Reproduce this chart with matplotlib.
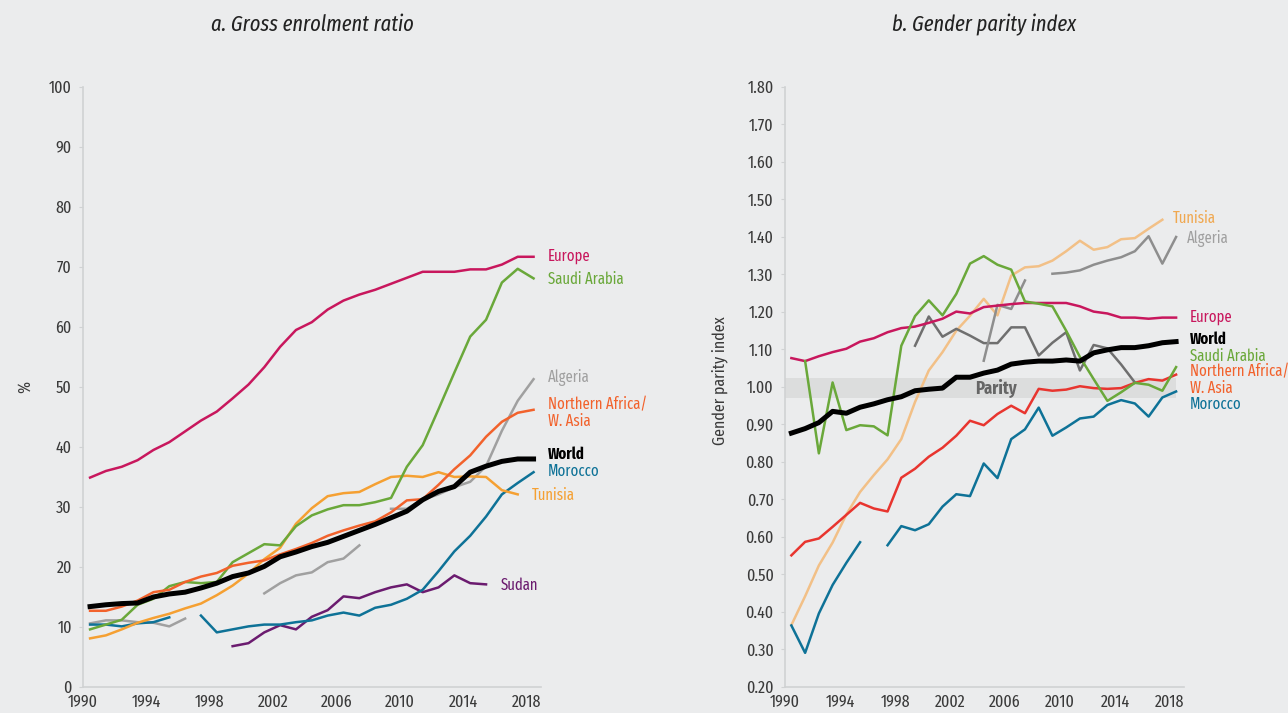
import numpy as np
import matplotlib
matplotlib.use("Agg")
import matplotlib.pyplot as plt

nan = np.nan
years = list(range(1990, 2019))

# a. Gross enrolment ratio (%)
ger_europe = [34.9, 36.0, 36.7, 37.8, 39.5, 40.8, 42.6, 44.4, 45.9, 48.1, 50.4, 53.3, 56.7, 59.5, 60.8,
              62.9, 64.4, 65.4, 66.2, 67.2, 68.2, 69.2, 69.2, 69.2, 69.6, 69.6, 70.4, 71.7, 71.7]
ger_saudi = [9.6, 10.4, 11.2, 13.7, 14.7, 16.8, 17.5, 17.3, 17.5, 20.8, 22.3, 23.8, 23.6, 26.8, 28.6,
             29.6, 30.3, 30.3, 30.8, 31.5, 36.7, 40.3, 46.3, 52.4, 58.4, 61.2, 67.4, 69.7, 68.1]
ger_algeria = [10.6, 11.1, 11.1, 10.8, 10.7, 10.1, 11.4, nan, nan, nan, nan, 15.6, 17.3, 18.6, 19.1,
               20.8, 21.4, 23.6, nan, 29.7, 29.7, 31.2, 32.1, 33.3, 34.2, 36.8, 42.7, 47.7, 51.3]
ger_nawa = [12.7, 12.7, 13.4, 14.4, 15.8, 16.2, 17.5, 18.4, 19.0, 20.2, 20.7, 21.1, 22.1, 23.0, 24.0,
            25.2, 26.1, 26.9, 27.6, 29.1, 31.1, 31.3, 33.7, 36.3, 38.6, 41.7, 44.2, 45.7, 46.2]
ger_world = [13.4, 13.7, 13.9, 14.0, 15.0, 15.5, 15.8, 16.5, 17.3, 18.4, 19.0, 20.1, 21.7, 22.5, 23.4,
             24.1, 25.1, 26.1, 27.1, 28.2, 29.3, 31.2, 32.6, 33.4, 35.8, 36.8, 37.6, 38.0, 38.0]
ger_morocco = [10.4, 10.4, 10.1, 10.6, 10.8, 11.6, nan, 11.9, 9.1, 9.6, 10.1, 10.4, 10.4, 10.8, 11.1,
               11.9, 12.4, 11.9, 13.2, 13.7, 14.7, 16.2, 19.3, 22.6, 25.2, 28.4, 32.1, 34.0, 35.8]
ger_tunisia = [8.1, 8.6, 9.6, 10.7, 11.5, 12.2, 13.1, 13.9, 15.3, 16.9, 18.9, 21.3, 23.2, 27.2, 29.8,
               31.8, 32.3, 32.5, 33.8, 35.0, 35.2, 35.0, 35.8, 35.0, 35.1, 35.0, 32.8, 32.1, nan]
ger_sudan = [nan] * 9 + [6.8, 7.3, 9.1, 10.3, 9.6, 11.7, 12.8, 15.1, 14.8, 15.8, 16.6, 17.1, 15.8,
                         16.6, 18.6, 17.3, 17.1, nan, nan, nan]

# b. Gender parity index
gpi_europe = [1.077, 1.069, 1.082, 1.093, 1.102, 1.121, 1.130, 1.146, 1.157, 1.161, 1.171, 1.182, 1.201,
              1.196, 1.213, 1.217, 1.221, 1.224, 1.224, 1.224, 1.224, 1.215, 1.201, 1.196, 1.185, 1.185,
              1.182, 1.185, 1.185]
gpi_world = [0.877, 0.889, 0.905, 0.935, 0.930, 0.946, 0.955, 0.966, 0.974, 0.990, 0.994, 0.997, 1.026,
             1.026, 1.037, 1.045, 1.061, 1.066, 1.069, 1.069, 1.072, 1.069, 1.091, 1.099, 1.105, 1.105,
             1.110, 1.118, 1.121]
gpi_saudi = [nan, 1.069, 0.823, 1.012, 0.885, 0.898, 0.895, 0.871, 1.110, 1.189, 1.231, 1.191, 1.248,
             1.329, 1.349, 1.326, 1.313, 1.228, 1.222, 1.215, 1.150, 1.080, 1.021, 0.963, 0.986, 1.011,
             1.006, 0.990, 1.053]
gpi_tunisia = [0.365, 0.442, 0.524, 0.585, 0.660, 0.720, 0.765, 0.807, 0.861, 0.960, 1.044, 1.093, 1.150,
               1.190, 1.235, 1.191, 1.297, 1.319, 1.322, 1.337, 1.362, 1.390, 1.366, 1.373, 1.394, 1.397,
               1.422, 1.446, nan]
gpi_algeria = [nan] * 14 + [1.070, 1.219, 1.208, 1.284, nan, 1.302, 1.305, 1.311, 1.326, 1.337, 1.346,
                            1.362, 1.402, 1.329, 1.400]
gpi_other = [nan] * 9 + [1.110, 1.188, 1.134, 1.155, 1.137, 1.117, 1.117, 1.159, 1.159, 1.084, 1.118,
                         1.146, 1.044, 1.112, 1.103, 1.060, 1.012, nan, nan, nan]
gpi_nawa = [0.551, 0.587, 0.596, 0.627, 0.659, 0.691, 0.676, 0.668, 0.758, 0.782, 0.814, 0.838, 0.870,
            0.910, 0.898, 0.928, 0.950, 0.930, 0.995, 0.990, 0.993, 1.002, 0.997, 0.995, 0.997, 1.011,
            1.021, 1.017, 1.033]
gpi_morocco = [0.364, 0.291, 0.396, 0.472, 0.531, 0.586, nan, 0.578, 0.629, 0.618, 0.634, 0.681, 0.714,
               0.709, 0.796, 0.757, 0.861, 0.887, 0.945, 0.870, 0.892, 0.916, 0.921, 0.952, 0.965, 0.956,
               0.921, 0.972, 0.988]

xticks = [1990, 1994, 1998, 2002, 2006, 2010, 2014, 2018]

BG = "#ebeced"
C_EUR = "#c8175d"
C_SAU = "#6aa83a"
C_ALG = "#a0a0a0"
C_NAWA = "#f2622c"
C_NAWA_B = "#e8352f"
C_MOR = "#0e7297"
C_TUN = "#f5a032"
C_TUN_B = "#f2c087"
C_SUD = "#6b1b6f"
TXT = "#3a3a3a"

plt.rcParams['font.family'] = ['Fira Sans Extra Condensed', 'Fira Sans Condensed', 'DejaVu Sans']

fig = plt.figure(figsize=(12.88, 7.13), dpi=100, facecolor=BG)
ax1 = fig.add_axes([0.0644, 0.0365, 0.356, 0.8415])
ax2 = fig.add_axes([0.6092, 0.0365, 0.3101, 0.8415])


def style(ax):
    ax.set_facecolor(BG)
    for s in ["top", "right"]:
        ax.spines[s].set_visible(False)
    for s in ["left", "bottom"]:
        ax.spines[s].set_color("#d0d2d3")
        ax.spines[s].set_linewidth(1.2)
    ax.tick_params(axis="y", length=3, color="#d0d2d3", labelsize=12.5, labelcolor=TXT, pad=5)
    ax.tick_params(axis="x", length=0, labelsize=12.5, labelcolor=TXT, pad=5)
    ax.set_xticks([y - 0.45 for y in xticks])
    ax.set_xticklabels([str(y) for y in xticks])


lw = 1.8
fs = 11.5

# panel a
ax1.plot(years, ger_europe, color=C_EUR, lw=lw)
ax1.plot(years, ger_algeria, color=C_ALG, lw=lw)
ax1.plot(years, ger_sudan, color=C_SUD, lw=lw)
ax1.plot(years, ger_morocco, color=C_MOR, lw=lw)
ax1.plot(years, ger_tunisia, color=C_TUN, lw=lw)
ax1.plot(years, ger_saudi, color=C_SAU, lw=lw)
ax1.plot(years, ger_nawa, color=C_NAWA, lw=lw)
ax1.plot(years, ger_world, color="black", lw=3.6)
ax1.set_ylim(0, 100)
ax1.set_xlim(1989.56, 2018.5)
ax1.set_yticks(range(0, 101, 10))
style(ax1)
ax1.set_ylabel("%", fontsize=12.5, color=TXT)
ax1.yaxis.set_label_coords(-0.109, 0.5)
ax1.set_title("a. Gross enrolment ratio", fontsize=16, style="italic", color="#222222", pad=40)

ax1.text(2018.9, ger_europe[-1] + 0.2, "Europe", color=C_EUR, fontsize=fs, va="center")
ax1.text(2018.9, ger_saudi[-1] - 0.2, "Saudi Arabia", color=C_SAU, fontsize=fs, va="center")
ax1.text(2018.9, ger_algeria[-1] + 0.2, "Algeria", color=C_ALG, fontsize=fs, va="center")
ax1.text(2018.9, ger_nawa[-1] - 0.5, "Northern Africa/\nW. Asia", color=C_NAWA, fontsize=fs, va="center",
         linespacing=1.1)
ax1.text(2018.9, ger_world[-1] + 0.7, "World", color="black", fontsize=fs, va="center", weight="bold")
ax1.text(2018.9, ger_morocco[-1] + 0.2, "Morocco", color=C_MOR, fontsize=fs, va="center")
ax1.text(2017.9, ger_tunisia[-2] - 0.2, "Tunisia", color=C_TUN, fontsize=fs, va="center")
ax1.text(2015.9, ger_sudan[-4] - 0.1, "Sudan", color=C_SUD, fontsize=fs, va="center")

# panel b
ax2.axhspan(0.97, 1.024, xmin=0, xmax=0.98, color="#dcdddd", zorder=0, lw=0)
ax2.text(2004.9, 0.997, "Parity", fontsize=13, weight="bold", color="#666666", ha="center", va="center")
ax2.plot(years, gpi_tunisia, color=C_TUN_B, lw=lw)
ax2.plot(years, gpi_morocco, color=C_MOR, lw=lw)
ax2.plot(years, gpi_nawa, color=C_NAWA_B, lw=lw)
ax2.plot(years, gpi_other, color="#6f6f6f", lw=lw)
ax2.plot(years, gpi_algeria, color="#8e8e8e", lw=lw)
ax2.plot(years, gpi_europe, color=C_EUR, lw=lw)
ax2.plot(years, gpi_saudi, color=C_SAU, lw=lw)
ax2.plot(years, gpi_world, color="black", lw=3.6)
ax2.set_ylim(0.2, 1.8)
ax2.set_xlim(1989.51, 2018.58)
ticks_b = [0.2 + 0.1 * i for i in range(17)]
ax2.set_yticks(ticks_b)
ax2.set_yticklabels([f"{t:.2f}" for t in ticks_b])
style(ax2)
ax2.set_ylabel("Gender parity index", fontsize=12.5, color=TXT)
ax2.yaxis.set_label_coords(-0.142, 0.51)
ax2.set_title("b. Gender parity index", fontsize=16, style="italic", color="#222222", pad=40)

ax2.text(2017.77, 1.449, "Tunisia", color="#f0a850", fontsize=fs, va="center")
ax2.text(2018.8, 1.396, "Algeria", color=C_ALG, fontsize=fs, va="center")
ax2.text(2019.0, 1.187, "Europe", color=C_EUR, fontsize=fs, va="center")
ax2.text(2019.0, 1.126, "World", color="black", fontsize=fs, va="center", weight="bold")
ax2.text(2019.0, 1.083, "Saudi Arabia", color=C_SAU, fontsize=fs, va="center")
ax2.text(2019.0, 1.018, "Northern Africa/\nW. Asia", color=C_NAWA, fontsize=fs, va="center",
         linespacing=1.05)
ax2.text(2019.0, 0.955, "Morocco", color=C_MOR, fontsize=fs, va="center")

fig.savefig("out.png", dpi=100, facecolor=BG)
